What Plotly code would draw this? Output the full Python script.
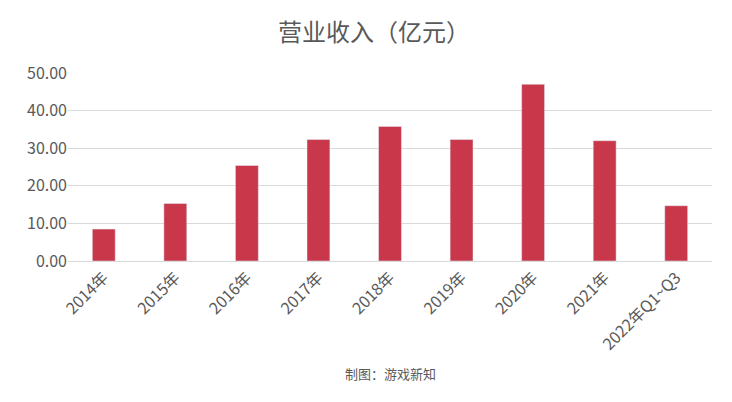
import plotly.graph_objects as go

categories = ["2014年", "2015年", "2016年", "2017年", "2018年", "2019年", "2020年", "2021年", "2022年Q1~Q3"]
revenue = [8.5, 15.3, 25.4, 32.3, 35.8, 32.3, 47.0, 32.0, 14.7]
y_ticks = [0, 10, 20, 30, 40, 50]

fig = go.Figure(go.Bar(x=categories, y=revenue, marker_color="#C8374A", width=0.32))
fig.update_layout(
    width=732, height=402,
    margin=dict(l=60, r=28, t=72, b=142),
    paper_bgcolor="white", plot_bgcolor="white",
    font=dict(family="Noto Sans CJK SC", color="#595959"),
    title=dict(text="营业收入（亿元）", x=0.5, xanchor="center", y=0.96, yanchor="top",
               font=dict(size=24, color="#595959")),
    showlegend=False,
    annotations=[dict(text="制图：游戏新知", x=0.5, xref="paper", y=372, yref="paper",
                      showarrow=False, font=dict(size=13, color="#595959"))],
)
fig.update_layout(margin=dict(l=60, r=28, t=65, b=149),
                  annotations=[dict(text="制图：游戏新知", x=0.5, xref="paper", y=-0.6, yref="paper",
                                    yanchor="middle", showarrow=False, font=dict(size=13, color="#595959"))])
fig.update_xaxes(tickangle=-45, tickfont=dict(size=16), showline=True, linecolor="#D9D9D9", ticks="")
fig.update_yaxes(range=[0, 50], tickvals=y_ticks, ticktext=[f"{v:.2f}" for v in y_ticks],
                 tickfont=dict(size=16), gridcolor="#D9D9D9", zeroline=False)
fig.write_html("out.html")
